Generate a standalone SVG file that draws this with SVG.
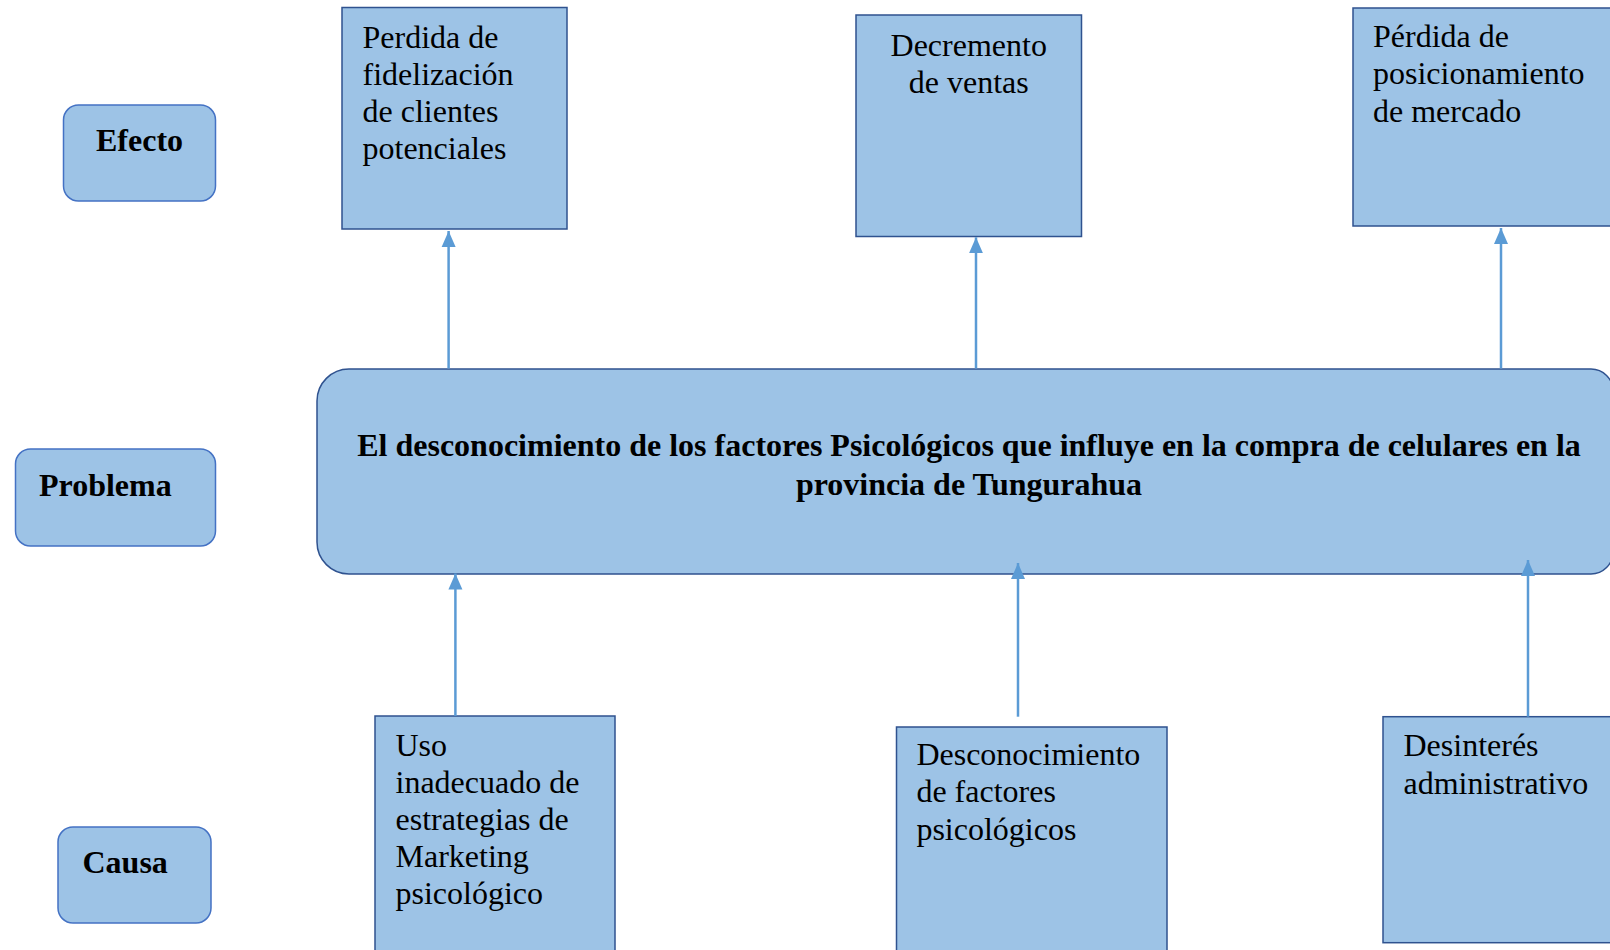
<svg xmlns="http://www.w3.org/2000/svg" width="1610" height="950" viewBox="0 0 1610 950">
<defs>
<style>
.lbl{fill:#9DC3E6;stroke:#4472C4;stroke-width:1.5}
.box{fill:#9DC3E6;stroke:#2F528F;stroke-width:1.5}
.t{font-family:"Liberation Serif","Times New Roman",serif;font-size:32px;fill:#000}
.b{font-weight:bold}
.conn{stroke:#5B9BD5;stroke-width:2.5;fill:none}
</style>
<marker id="arr" markerUnits="userSpaceOnUse" markerWidth="16" markerHeight="16" viewBox="0 0 16 16" refX="16" refY="8" orient="auto">
<path d="M0,1 L16,8 L0,15 Z" fill="#5B9BD5"/>
</marker>
</defs>
<rect width="1610" height="950" fill="#fff"/>

<g id="efecto">
<rect class="lbl" x="63.5" y="105" width="152" height="96" rx="15"/>
<text class="t b" x="96" y="150.5">Efecto</text>
</g>
<g id="problema">
<rect class="lbl" x="15.5" y="449" width="200" height="97" rx="15"/>
<text class="t b" x="39" y="495.5">Problema</text>
</g>
<g id="causa">
<rect class="lbl" x="58" y="827" width="153" height="96" rx="15"/>
<text class="t b" x="82.5" y="873">Causa</text>
</g>

<g id="efecto1">
<rect class="box" x="342" y="7.5" width="225" height="221.5"/>
<text class="t"><tspan x="362.5" y="47.5">Perdida de</tspan><tspan x="362.5" y="84.5">fidelización</tspan><tspan x="362.5" y="121.5">de clientes</tspan><tspan x="362.5" y="158.5">potenciales</tspan></text>
</g>
<g id="efecto2">
<rect class="box" x="856" y="15" width="225.5" height="221.5"/>
<text class="t" text-anchor="middle"><tspan x="968.7" y="56">Decremento</tspan><tspan x="968.7" y="93">de ventas</tspan></text>
</g>
<g id="efecto3">
<rect class="box" x="1353" y="8" width="300" height="218"/>
<text class="t"><tspan x="1373" y="46.5">Pérdida de</tspan><tspan x="1373" y="83.5">posicionamiento</tspan><tspan x="1373" y="122">de mercado</tspan></text>
</g>

<g id="problema-central">
<path class="box" d="M349,369 H1591 A22,22 0 0 1 1613,391 V552 A22,22 0 0 1 1591,574 H349 A32,32 0 0 1 317,542 V401 A32,32 0 0 1 349,369 Z"/>
<text class="t b" text-anchor="middle"><tspan x="969" y="455.5">El desconocimiento de los factores Psicológicos que influye en la compra de celulares en la</tspan><tspan x="969" y="494.5">provincia de Tungurahua</tspan></text>
</g>

<g id="causa1">
<rect class="box" x="375" y="716" width="240" height="250"/>
<text class="t"><tspan x="395.5" y="756">Uso</tspan><tspan x="395.5" y="793">inadecuado de</tspan><tspan x="395.5" y="830">estrategias de</tspan><tspan x="395.5" y="867">Marketing</tspan><tspan x="395.5" y="904">psicológico</tspan></text>
</g>
<g id="causa2">
<rect class="box" x="896.5" y="727" width="270.5" height="240"/>
<text class="t"><tspan x="916.4" y="765">Desconocimiento</tspan><tspan x="916.4" y="802">de factores</tspan><tspan x="916.4" y="840">psicológicos</tspan></text>
</g>
<g id="causa3">
<rect class="box" x="1383" y="716.7" width="300" height="226"/>
<text class="t"><tspan x="1403.5" y="756">Desinterés</tspan><tspan x="1403.5" y="794">administrativo</tspan></text>
</g>

<g id="connectors">
<line class="conn" x1="448.6" y1="368.5" x2="448.6" y2="231" marker-end="url(#arr)"/>
<line class="conn" x1="976" y1="368.5" x2="976" y2="237.3" marker-end="url(#arr)"/>
<line class="conn" x1="1501" y1="368.5" x2="1501" y2="228" marker-end="url(#arr)"/>
<line class="conn" x1="455.4" y1="716" x2="455.4" y2="573.5" marker-end="url(#arr)"/>
<line class="conn" x1="1018" y1="716.7" x2="1018" y2="563" marker-end="url(#arr)"/>
<line class="conn" x1="1528" y1="716.7" x2="1528" y2="560" marker-end="url(#arr)"/>
</g>
</svg>
